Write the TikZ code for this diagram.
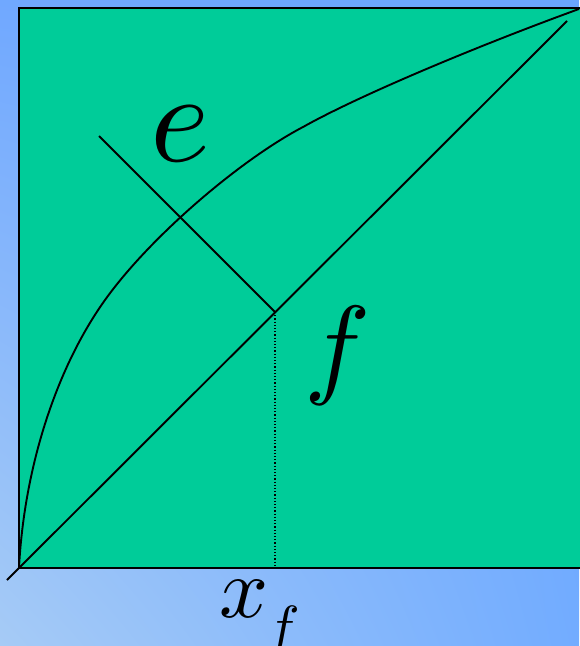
\documentclass[tikz,border=0pt]{standalone}
\usepackage{graphicx}
\usetikzlibrary{shadings}
\definecolor{boxgreen}{RGB}{0,204,153}
\definecolor{bgLL}{RGB}{166,203,246}
\definecolor{bgUL}{RGB}{112,168,255}
\definecolor{bgLR}{RGB}{114,172,255}
\definecolor{bgUR}{RGB}{106,165,255}
\tikzset{
  lbl/.style={inner sep=0pt},
  thinline/.style={line width=1.9pt, black},
}
\begin{document}
\begin{tikzpicture}[x=1pt,y=-1pt]
\useasboundingbox (0,0) rectangle (579,646);
\shade[lower left=bgLL, upper left=bgUL, lower right=bgLR, upper right=bgUR] (0,0) rectangle (579,646);
\fill[boxgreen] (19,8) rectangle (582,568);
\draw[line width=2.5pt] (582,8) -- (19,8) -- (19,568) -- (582,568);
\coordinate (O) at (19,568);
\coordinate (D1) at (7,580);
\coordinate (D2) at (567,21);
\coordinate (P) at (99,136);
\coordinate (F) at (275,312);
\coordinate (B) at (275,568);
\coordinate (C) at (579,9);
\coordinate (K1) at (105,300);
\coordinate (K2) at (303,127);
% curve
\draw[thinline] (O) .. controls (24,470) and (55,370) .. (K1)
  .. controls (150,237) and (240,160) .. (K2)
  .. controls (360,95) and (480,45) .. (C);
% diagonal
\draw[thinline] (D1) -- (D2);
% perpendicular
\draw[thinline] (P) -- (F);
% dotted drop
\draw[line width=1.2pt, dotted] (F) -- (B);
% labels
\node[lbl] (e) at (180,134) {\scalebox{12.8}{$e$}};
\node[lbl] (f) at (338,356) {\scalebox{11.1}{$f$}};
\node[lbl] (x) at (244,599) {\scalebox{8.6}{$x$}};
\node[lbl] (xf) at (283,632) {\scalebox{5.8}{$f$}};
\end{tikzpicture}
\end{document}
